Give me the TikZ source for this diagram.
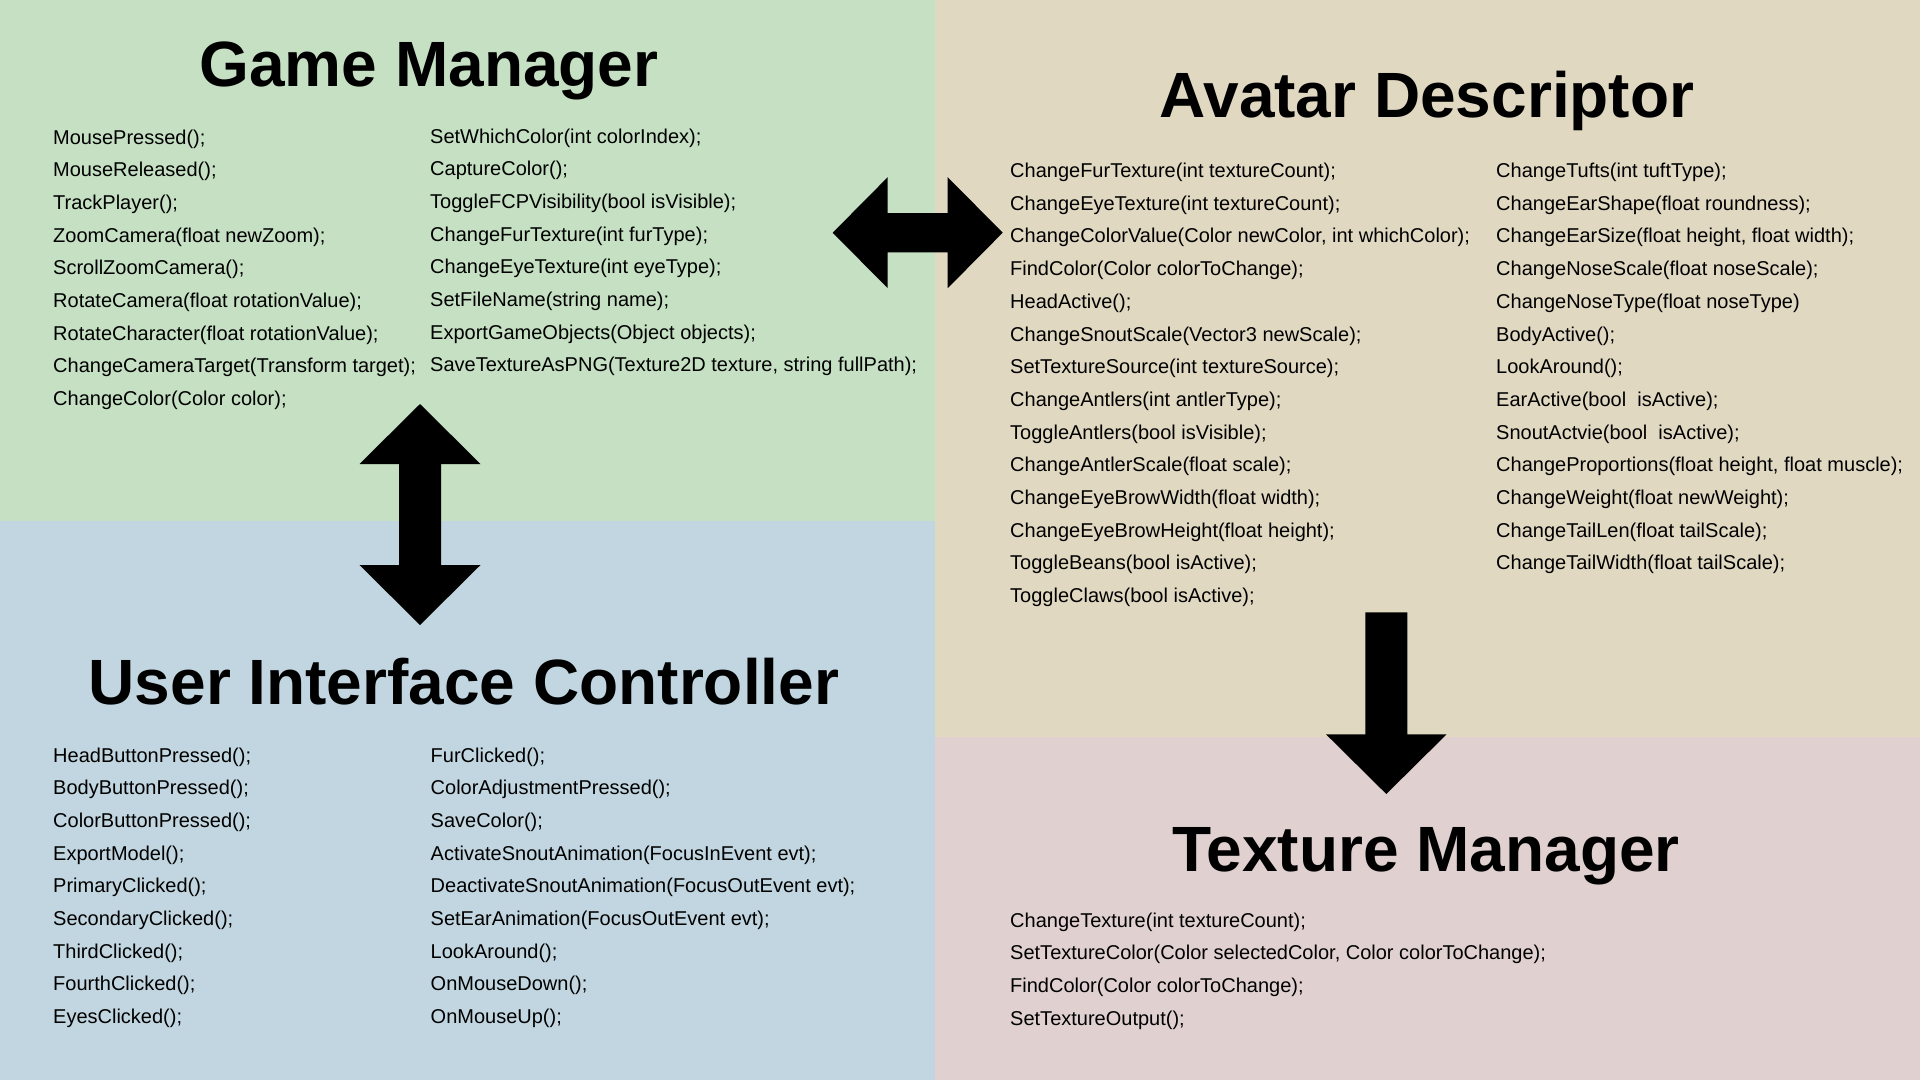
\documentclass[tikz,border=0pt]{standalone}
\usepackage{fontspec}
\setmainfont{Liberation Sans}
\definecolor{gmgreen}{RGB}{197,224,195}
\definecolor{adtan}{RGB}{224,216,193}
\definecolor{uiblue}{RGB}{193,214,224}
\definecolor{tmpink}{RGB}{224,208,208}

\begin{document}
\begin{tikzpicture}[x=1pt,y=-1pt,
    title/.style={font=\fontsize{64}{64}\selectfont\bfseries, anchor=base, inner sep=0pt},
    fnlist/.style={font=\fontsize{20}{32.7}\selectfont, align=left, anchor=base west, inner sep=0pt}]
    \useasboundingbox (0,0) rectangle (1920,1080);
    \fill[gmgreen](0,0) rectangle (935,520.7);
    \fill[uiblue](0,520.7) rectangle (935,1080);
    \fill[adtan](935,0) rectangle (1920,737.3);
    \fill[tmpink](935,737.3) rectangle (1920,1080);

    \node[title] (gm) at (429,86) {Game Manager};
    \node[title] (ad) at (1427,117) {Avatar Descriptor};
    \node[title] (ui) at (464,704) {User Interface Controller};
    \node[title] (tm) at (1426,871) {Texture Manager};

    \node[fnlist] (gm-left) at (53,405.6) {MousePressed();\\MouseReleased();\\TrackPlayer();\\ZoomCamera(float newZoom);\\ScrollZoomCamera();\\RotateCamera(float rotationValue);\\RotateCharacter(float rotationValue);\\ChangeCameraTarget(Transform target);\\ChangeColor(Color color);};
    \node[fnlist] (gm-right) at (430,371.9) {SetWhichColor(int colorIndex);\\CaptureColor();\\ToggleFCPVisibility(bool isVisible);\\ChangeFurTexture(int furType);\\ChangeEyeTexture(int eyeType);\\SetFileName(string name);\\ExportGameObjects(Object objects);\\SaveTextureAsPNG(Texture2D texture, string fullPath);};

    \node[fnlist] (ad-left) at (1010,602.6) {ChangeFurTexture(int textureCount);\\ChangeEyeTexture(int textureCount);\\ChangeColorValue(Color newColor, int whichColor);\\FindColor(Color colorToChange);\\HeadActive();\\ChangeSnoutScale(Vector3 newScale);\\SetTextureSource(int textureSource);\\ChangeAntlers(int antlerType);\\ToggleAntlers(bool isVisible);\\ChangeAntlerScale(float scale);\\ChangeEyeBrowWidth(float width);\\ChangeEyeBrowHeight(float height);\\ToggleBeans(bool isActive);\\ToggleClaws(bool isActive);};
    \node[fnlist] (ad-right) at (1496,569.9) {ChangeTufts(int tuftType);\\ChangeEarShape(float roundness);\\ChangeEarSize(float height, float width);\\ChangeNoseScale(float noseScale);\\ChangeNoseType(float noseType)\\BodyActive();\\LookAround();\\EarActive(bool\ \ isActive);\\SnoutActvie(bool\ \ isActive);\\ChangeProportions(float height, float muscle);\\ChangeWeight(float newWeight);\\ChangeTailLen(float tailScale);\\ChangeTailWidth(float tailScale);};

    \node[fnlist] (ui-left) at (53,1023.6) {HeadButtonPressed();\\BodyButtonPressed();\\ColorButtonPressed();\\ExportModel();\\PrimaryClicked();\\SecondaryClicked();\\ThirdClicked();\\FourthClicked();\\EyesClicked();};
    \node[fnlist] (ui-right) at (430.5,1023.6) {FurClicked();\\ColorAdjustmentPressed();\\SaveColor();\\ActivateSnoutAnimation(FocusInEvent evt);\\DeactivateSnoutAnimation(FocusOutEvent evt);\\SetEarAnimation(FocusOutEvent evt);\\LookAround();\\OnMouseDown();\\OnMouseUp();};

    \node[fnlist] (tm-list) at (1010,1025.1) {ChangeTexture(int textureCount);\\SetTextureColor(Color selectedColor, Color colorToChange);\\FindColor(Color colorToChange);\\SetTextureOutput();};

    \coordinate (gm-ad) at (917.7,232.7);
    \coordinate (gm-ui) at (420,514.5);
    \coordinate (ad-tm) at (1386.3,612.3);

    \fill[black](gm-ad) ++(-85,0) -- ++(55,-55.5) -- ++(0,35.8) -- ++(60,0) -- ++(0,-35.8) -- ++(55,55.5)
        -- ++(-55,55.5) -- ++(0,-35.8) -- ++(-60,0) -- ++(0,35.8) -- cycle;
    \fill[black](gm-ui) ++(0,-110.5) -- ++(60.5,60) -- ++(-39.5,0) -- ++(0,101) -- ++(39.5,0) -- ++(-60.5,60)
        -- ++(-60.5,-60) -- ++(39.5,0) -- ++(0,-101) -- ++(-39.5,0) -- cycle;
    \fill[black](ad-tm) ++(-21,0) -- ++(42,0) -- ++(0,122) -- ++(39.3,0) -- ++(-60.3,59.7)
        -- ++(-60.3,-59.7) -- ++(39.3,0) -- cycle;
\end{tikzpicture}
\end{document}
